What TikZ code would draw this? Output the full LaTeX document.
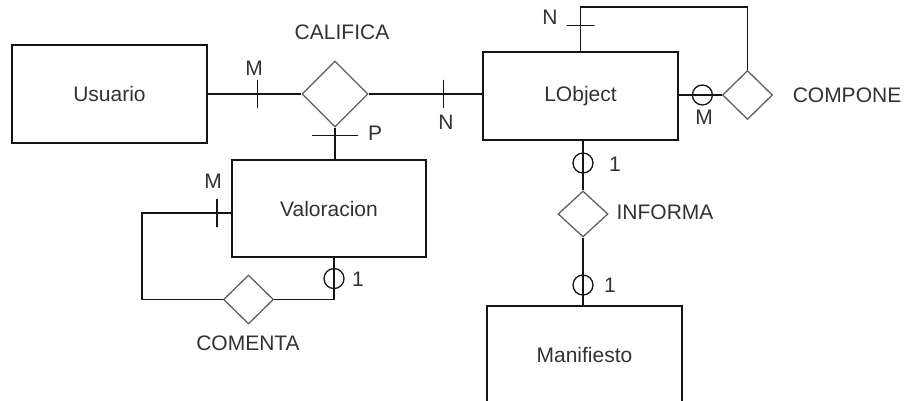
\documentclass[tikz,border=0pt]{standalone}
\usepackage{fontspec}
\setmainfont{Liberation Sans}
\usetikzlibrary{shapes.geometric,positioning}
\definecolor{erLine}{RGB}{20,20,20}
\definecolor{erText}{RGB}{50,50,50}
\definecolor{erRel}{RGB}{95,95,95}

\begin{document}
\begin{tikzpicture}[x=1pt, y=-1pt,
    every node/.style={font=\fontsize{21}{24}\selectfont, text=erText},
    entity/.style={rectangle, draw=erLine, line width=1.3pt,
                   minimum width=195pt, minimum height=97pt, inner sep=0pt},
    relation/.style={diamond, draw=erRel, line width=1.3pt,
                     minimum width=50pt, minimum height=49pt, inner sep=0pt},
    conn/.style={draw=erLine, line width=1.3pt},
    bar/.style={draw=erLine, line width=1.3pt, inner sep=0pt,
                minimum width=0pt, minimum height=28pt, sloped},
    ring/.style={circle, draw=erLine, line width=1.3pt, inner sep=0pt, minimum size=20pt}
  ]
  \useasboundingbox (0,0) rectangle (905,401);

  % entities
  \node[entity, minimum height=98pt] (usu) at (109.5, 94)  {Usuario};
  \node[entity, minimum height=88pt] (lob) at (580.5, 96)  {LObject};
  \node[entity, minimum width=194pt] (val) at (329, 208.5) {Valoracion};
  \node[entity, minimum height=98pt] (man) at (584.5, 355) {Manifiesto};

  % relations
  \node[relation, minimum width=66pt, minimum height=66pt] (cal) at (335, 94) {};
  \node[relation] (cmp) at (747.5, 95)  {};
  \node[relation, minimum height=46pt] (inf) at (583, 214)   {};
  \node[relation] (com) at (248.5, 299.5) {};

  \node (tCal) at (342, 32)  {CALIFICA};
  \node (tCmp) at (847, 95)  {COMPONE};
  \node (tInf) at (665, 212) {INFORMA};
  \node (tCom) at (248, 343) {COMENTA};

  % connectors
  \draw[conn] (usu.east) -- node[bar, pos=.53] {} (cal.west);
  \draw[conn] (cal.east) -- node[bar, pos=.66] {} (cal.east -| lob.west);
  \draw[conn] (cal.south) -- node[bar, minimum height=46pt, pos=.24] {} (cal.south |- val.north);

  \coordinate (cmpTop) at (580.5, 7);
  \draw[conn] (lob.north) -- node[bar, pos=.58] {} (cmpTop) -| (cmp.north);
  \draw[conn] (lob.east |- cmp.west) -- node[ring, pos=.55] {} (cmp.west);

  \draw[conn] (lob.south -| inf.north) -- node[ring, pos=.45] {} (inf.north);
  \draw[conn] (inf.south) -- node[ring, pos=.7] {} (inf.south |- man.north);

  \coordinate (comLeft) at (142, 213);
  \draw[conn] (val.west |- comLeft) -- node[bar, pos=.16] {} (comLeft) |- (com.west);
  \coordinate (comRight) at (334, 299.5);
  \draw[conn] (comRight |- val.south) -- node[ring, pos=.5] {} (comRight) -- (com.east);

  % cardinalities
  \node (mUsu)   at (254, 68)  {M};
  \node (nLob)   at (446, 122) {N};
  \node (pVal)   at (375, 133) {P};
  \node (nTop)   at (550, 17)  {N};
  \node (mCmp)   at (704, 117) {M};
  \node (oneLob) at (615, 164) {1};
  \node (oneMan) at (610, 285) {1};
  \node (mVal)   at (213, 181) {M};
  \node (oneVal) at (358, 279) {1};
\end{tikzpicture}
\end{document}
